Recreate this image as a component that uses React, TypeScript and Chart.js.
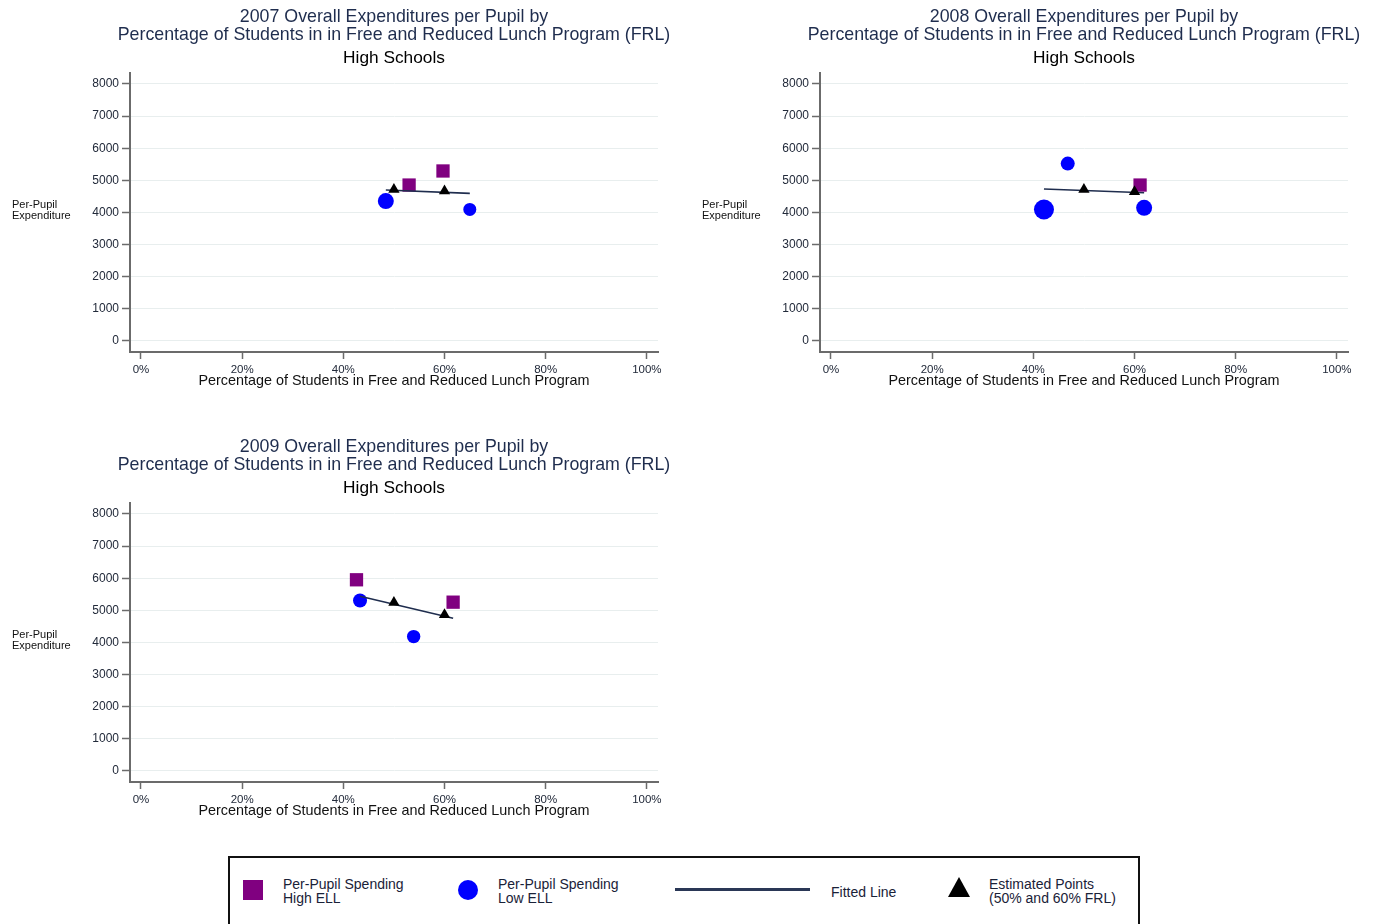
import React, { useEffect, useRef } from 'react';
import { Chart, registerables } from 'chart.js';

Chart.register(...registerables);

const FONT = "'Liberation Sans', Arial, sans-serif";
const NAVY = '#1f2d4e';
const AXIS = '#6b6b6b';

// ---- tick labels ----
const frlTicks = [0, 20, 40, 60, 80, 100];
const spendTicks = [0, 1000, 2000, 3000, 4000, 5000, 6000, 7000, 8000];

// ---- 2007 ----
const high2007Frl = [53.0, 59.7];
const high2007Spend = [4854, 5292];
const low2007Frl = [48.4, 65.0];
const low2007Spend = [4354, 4094];
const low2007Size = [8, 6.5];
const est2007Frl = [50, 60];
const est2007Spend = [4719, 4667];
const fit2007Frl = [48.4, 65.0];
const fit2007Spend = [4698, 4594];

// ---- 2008 ----
const high2008Frl = [61.1];
const high2008Spend = [4854];
const low2008Frl = [46.8, 42.1, 61.9];
const low2008Spend = [5521, 4094, 4146];
const low2008Size = [7, 10, 8];
const est2008Frl = [50, 60];
const est2008Spend = [4719, 4646];
const fit2008Frl = [42.1, 61.9];
const fit2008Spend = [4729, 4615];

// ---- 2009 ----
const high2009Frl = [42.6, 61.7];
const high2009Spend = [5952, 5255];
const low2009Frl = [43.3, 53.9];
const low2009Spend = [5307, 4183];
const low2009Size = [7, 6.7];
const est2009Frl = [50, 60];
const est2009Spend = [5245, 4860];
const fit2009Frl = [43.3, 61.7];
const fit2009Spend = [5442, 4755];

const toPts = (xs: number[], ys: number[]) => xs.map((x, i) => ({ x, y: ys[i] }));

const yTitlePlugin = {
  id: 'yTitleHorizontal',
  afterDraw(chart: any) {
    const { ctx, chartArea } = chart;
    ctx.save();
    ctx.font = `11px ${FONT}`;
    ctx.fillStyle = '#111';
    ctx.textAlign = 'left';
    ctx.textBaseline = 'middle';
    const mid = (chartArea.top + chartArea.bottom) / 2 - 2;
    ctx.fillText('Per-Pupil', 12, mid - 5.5);
    ctx.fillText('Expenditure', 12, mid + 5.5);
    ctx.restore();
  },
};

type PanelProps = {
  year: string;
  left: number;
  top: number;
  highX: number[]; highY: number[];
  lowX: number[]; lowY: number[]; lowR: number[];
  estX: number[]; estY: number[];
  fitX: number[]; fitY: number[];
};

function Panel(p: PanelProps) {
  const ref = useRef<HTMLCanvasElement>(null);
  useEffect(() => {
    if (!ref.current) return;
    const chart = new Chart(ref.current, {
      type: 'scatter',
      data: {
        datasets: [
          {
            label: 'Estimated Points (50% and 60% FRL)',
            data: toPts(p.estX, p.estY),
            pointStyle: 'triangle',
            pointRadius: 6.5,
            backgroundColor: '#000',
            borderColor: '#000',
            borderWidth: 0,
          } as any,
          {
            label: 'Fitted Line',
            data: toPts(p.fitX, p.fitY),
            showLine: true,
            pointRadius: 0,
            borderColor: NAVY,
            borderWidth: 1.6,
            tension: 0,
          },
          {
            label: 'Per-Pupil Spending Low ELL',
            data: toPts(p.lowX, p.lowY),
            pointStyle: 'circle',
            pointRadius: p.lowR,
            backgroundColor: '#0000ff',
            borderWidth: 0,
          },
          {
            label: 'Per-Pupil Spending High ELL',
            data: toPts(p.highX, p.highY),
            pointStyle: 'rect',
            pointRadius: 9.4,
            backgroundColor: '#800080',
            borderWidth: 0,
          },
        ],
      },
      options: {
        animation: false,
        responsive: false,
        events: [],
        layout: { padding: { left: 0, right: 0, top: 0, bottom: 11 } },
        plugins: {
          legend: { display: false },
          tooltip: { enabled: false },
          title: {
            display: true,
            text: [
              `${p.year} Overall Expenditures per Pupil by`,
              'Percentage of Students in in Free and Reduced Lunch Program (FRL)',
            ],
            color: NAVY,
            font: { family: FONT, size: 17.8, weight: 'normal', lineHeight: '18px' },
            padding: { top: 8, bottom: 4 },
          },
          subtitle: {
            display: true,
            text: 'High Schools',
            color: '#000',
            font: { family: FONT, size: 17.3, weight: 'normal', lineHeight: '20px' },
            padding: { top: 0, bottom: 5 },
          },
        },
        scales: {
          x: {
            type: 'linear',
            min: -2.17,
            max: 102.2,
            afterBuildTicks: (a: any) => {
              a.ticks = frlTicks.map((v) => ({ value: v }));
            },
            afterFit: (s: any) => {
              s.height = 37;
            },
            ticks: {
              callback: (v: any) => `${v}%`,
              font: { family: FONT, size: 11.5 },
              color: '#222a3a',
              padding: 4,
              maxRotation: 0,
              autoSkip: false,
            },
            grid: {
              drawOnChartArea: false,
              drawTicks: true,
              tickLength: 7,
              tickColor: AXIS,
              tickWidth: 1.5,
            },
            border: { color: AXIS, width: 2 },
            title: {
              display: true,
              text: 'Percentage of Students in Free and Reduced Lunch Program',
              color: '#111',
              font: { family: FONT, size: 14.4, lineHeight: '16px' },
              padding: { top: 0, bottom: 0 },
            },
          },
          y: {
            type: 'linear',
            position: 'left',
            min: -343,
            max: 8342,
            afterBuildTicks: (a: any) => {
              a.ticks = spendTicks.map((v) => ({ value: v }));
            },
            afterFit: (s: any) => {
              s.width = 130;
            },
            ticks: {
              callback: (v: any) => String(v),
              font: { family: FONT, size: 12 },
              color: '#222a3a',
              padding: 3,
            },
            grid: {
              color: '#e8eeee',
              lineWidth: 1,
              tickLength: 8,
              tickColor: AXIS,
              tickWidth: 1.5,
            },
            border: { color: AXIS, width: 2 },
          },
          // blank right-hand spacer so the titles centre over the plot region
          ySpacer: {
            type: 'linear',
            position: 'right',
            min: 0,
            max: 1,
            afterFit: (s: any) => {
              s.width = 130;
            },
            ticks: { display: false },
            grid: { display: false, drawOnChartArea: false, drawTicks: false },
            border: { display: false },
          },
        },
      } as any,
      plugins: [yTitlePlugin],
    });
    return () => chart.destroy();
  }, []);
  return (
    <canvas
      ref={ref}
      width={788}
      height={400}
      style={{ position: 'absolute', left: p.left, top: p.top, width: 788, height: 400 }}
    />
  );
}

const legendText: React.CSSProperties = {
  position: 'absolute',
  fontFamily: FONT,
  fontSize: 14,
  lineHeight: '14px',
  color: '#1a2238',
  whiteSpace: 'nowrap',
};

export default function App() {
  return (
    <div
      style={{
        position: 'fixed',
        left: 0,
        top: 0,
        width: 1378,
        height: 924,
        overflow: 'hidden',
        background: '#fff',
      }}
    >
      <Panel year="2007" left={0} top={0}
        highX={high2007Frl} highY={high2007Spend}
        lowX={low2007Frl} lowY={low2007Spend} lowR={low2007Size}
        estX={est2007Frl} estY={est2007Spend}
        fitX={fit2007Frl} fitY={fit2007Spend} />
      <Panel year="2008" left={690} top={0}
        highX={high2008Frl} highY={high2008Spend}
        lowX={low2008Frl} lowY={low2008Spend} lowR={low2008Size}
        estX={est2008Frl} estY={est2008Spend}
        fitX={fit2008Frl} fitY={fit2008Spend} />
      <Panel year="2009" left={0} top={430}
        highX={high2009Frl} highY={high2009Spend}
        lowX={low2009Frl} lowY={low2009Spend} lowR={low2009Size}
        estX={est2009Frl} estY={est2009Spend}
        fitX={fit2009Frl} fitY={fit2009Spend} />

      {/* Legend */}
      <div
        style={{
          position: 'absolute',
          left: 228,
          top: 856,
          width: 912,
          height: 80,
          border: '2px solid #111',
          boxSizing: 'border-box',
        }}
      />
      <div style={{ position: 'absolute', left: 243, top: 880, width: 20, height: 20, background: '#800080' }} />
      <div style={{ ...legendText, left: 283, top: 877 }}>Per-Pupil Spending<br />High ELL</div>
      <div style={{ position: 'absolute', left: 458, top: 880, width: 20, height: 20, borderRadius: '50%', background: '#0000ff' }} />
      <div style={{ ...legendText, left: 498, top: 877 }}>Per-Pupil Spending<br />Low ELL</div>
      <div style={{ position: 'absolute', left: 675, top: 888, width: 135, height: 3, background: '#2a3756' }} />
      <div style={{ ...legendText, left: 831, top: 885 }}>Fitted Line</div>
      <div
        style={{
          position: 'absolute',
          left: 948,
          top: 877,
          width: 0,
          height: 0,
          borderLeft: '11px solid transparent',
          borderRight: '11px solid transparent',
          borderBottom: '20px solid #000',
        }}
      />
      <div style={{ ...legendText, left: 989, top: 877 }}>Estimated Points<br />(50% and 60% FRL)</div>
    </div>
  );
}
